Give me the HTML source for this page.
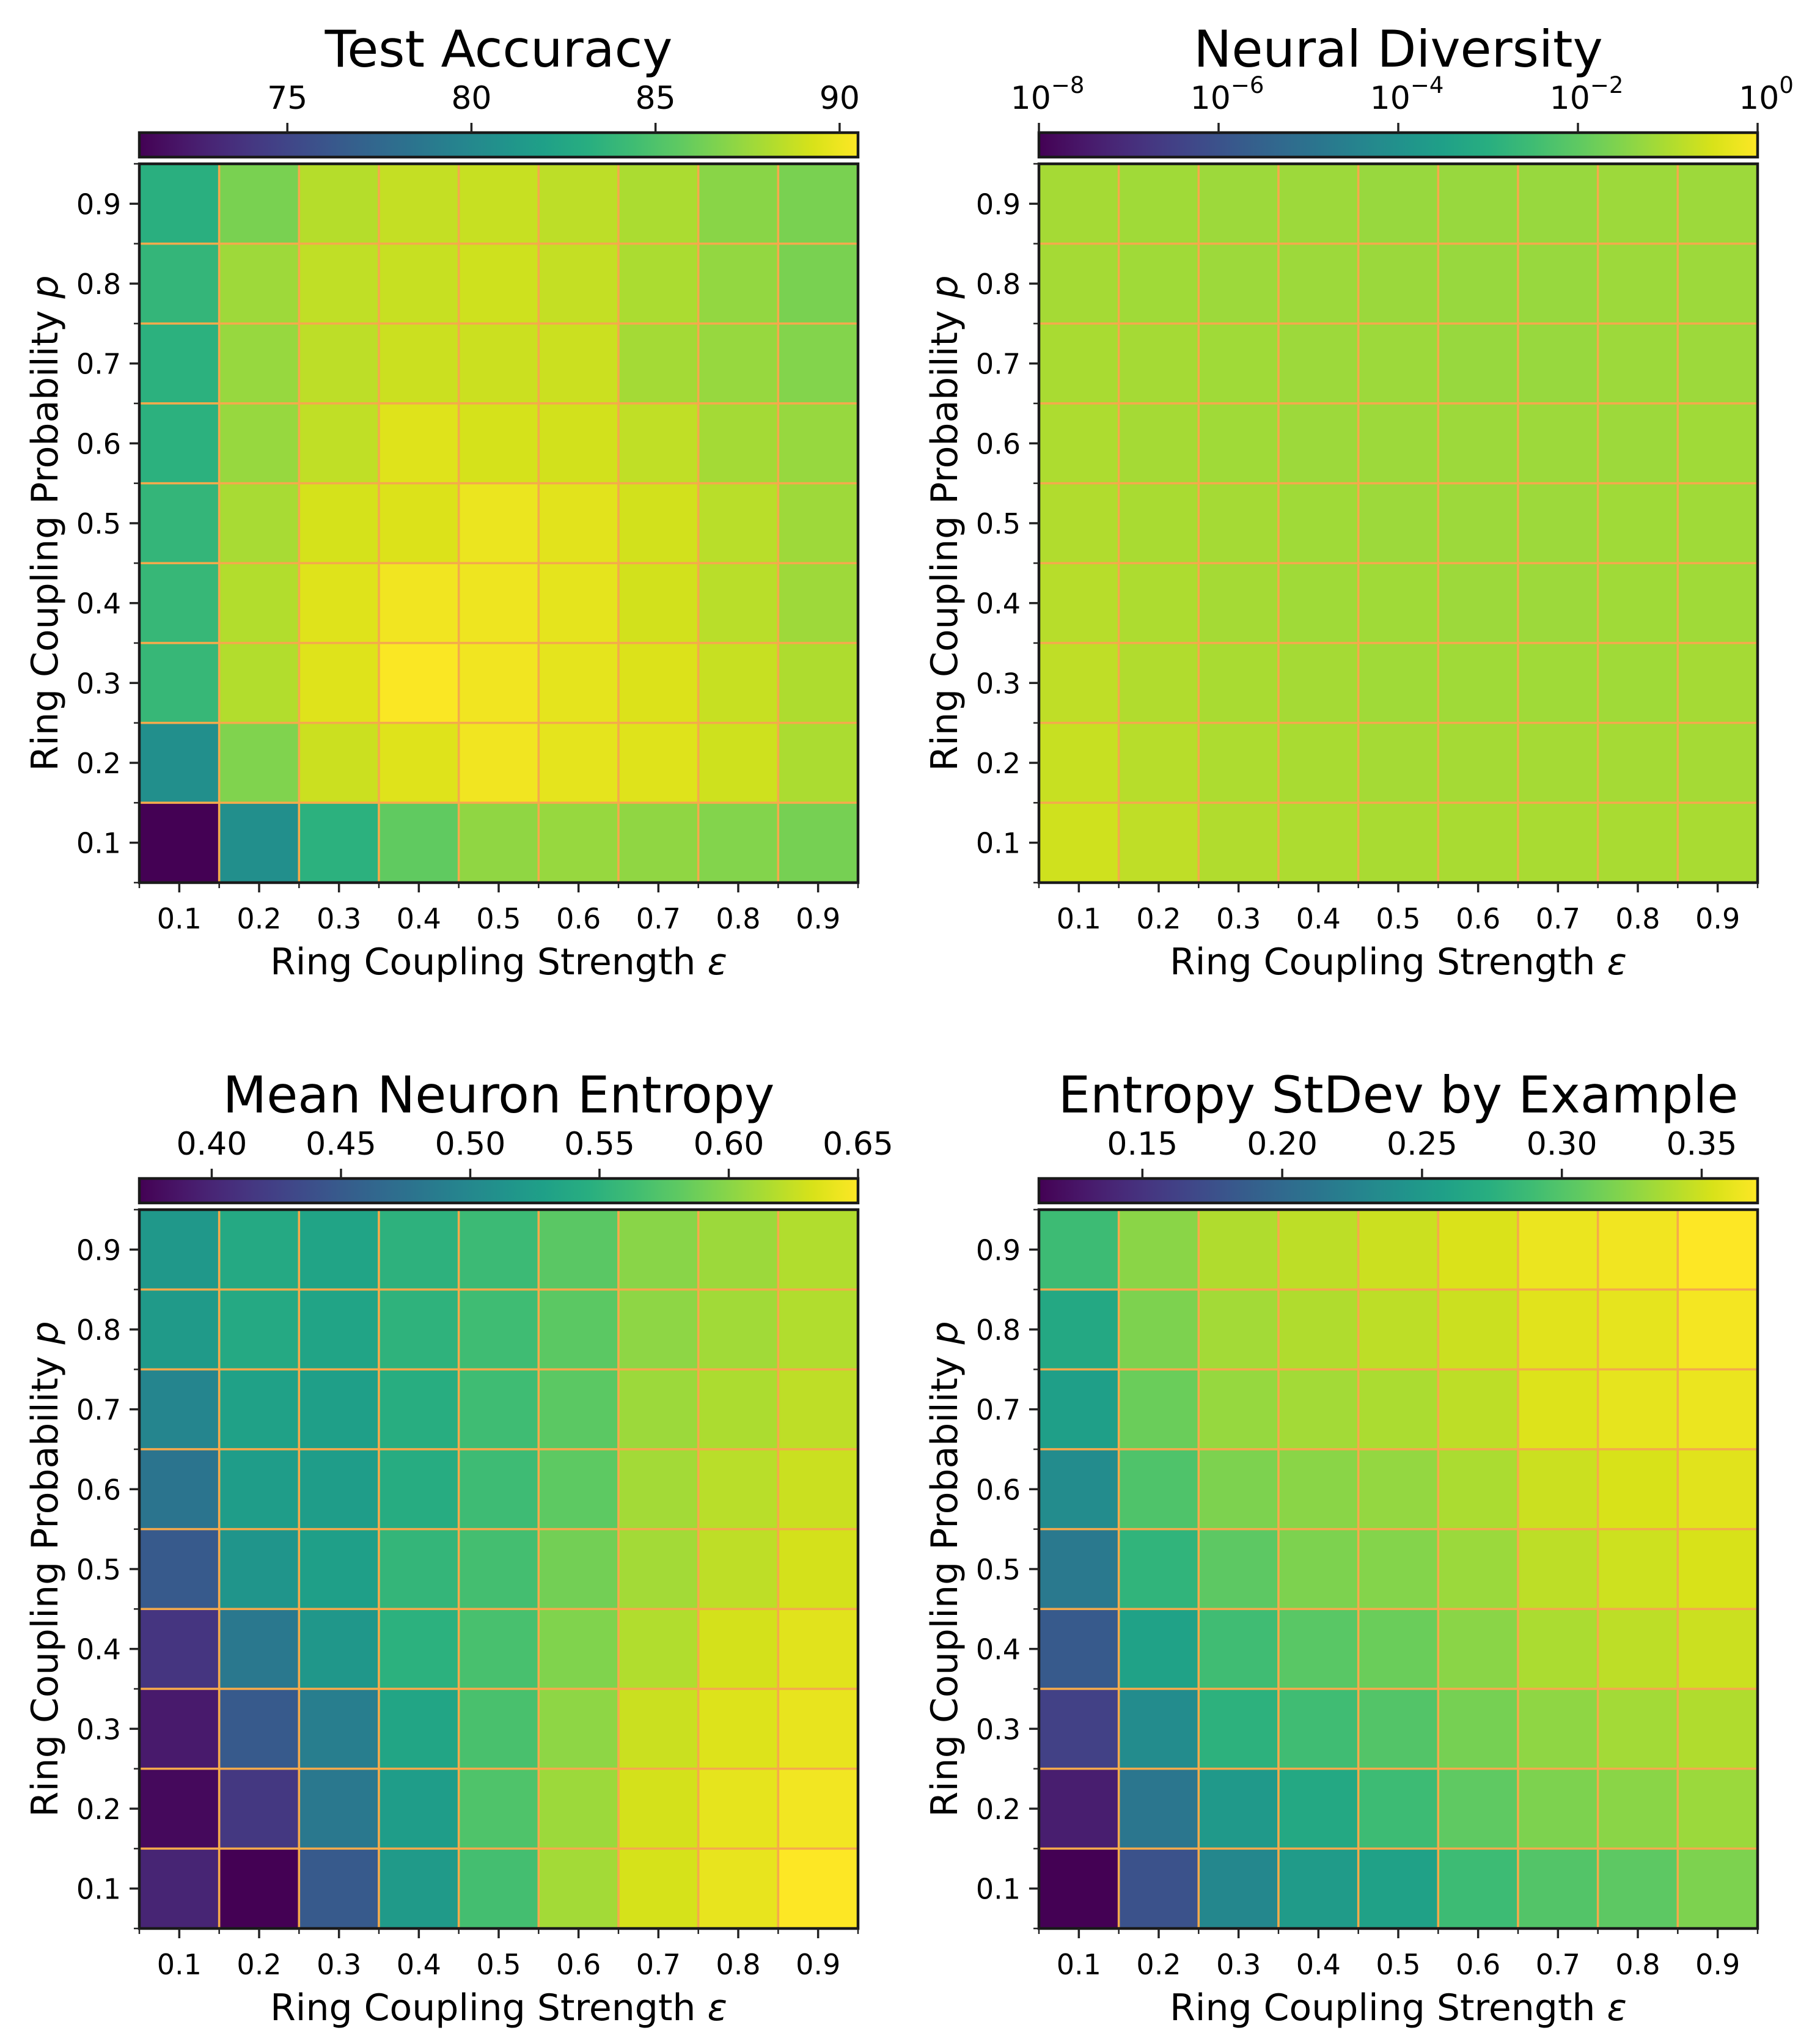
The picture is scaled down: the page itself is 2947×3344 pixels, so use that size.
<!DOCTYPE html>
<html><head><meta charset="utf-8"><style>
html,body{margin:0;padding:0;background:#fff;}
svg{display:block;font-family:"DejaVu Sans","Liberation Sans",sans-serif;}
</style></head><body>
<svg id="fig" width="2947" height="3344" viewBox="0 0 2947 3344" xmlns="http://www.w3.org/2000/svg">
<defs id="defs"></defs>
</svg>
<script>
const categories = [0.1,0.2,0.3,0.4,0.5,0.6,0.7,0.8,0.9];
const yCategories = [0.9,0.8,0.7,0.6,0.5,0.4,0.3,0.2,0.1];
// rows from p=0.9 (top) to p=0.1 (bottom), columns eps=0.1..0.9
const accuracyValues = [
[83.3,86.5,88.3,88.7,88.8,88.5,88.0,87.0,86.5],
[83.8,87.6,88.6,88.8,89.0,88.7,88.0,87.3,86.5],
[83.4,87.4,88.5,88.9,88.9,88.9,87.8,87.4,86.8],
[83.4,87.4,88.6,89.5,89.2,89.1,88.6,87.8,87.4],
[83.8,87.9,89.2,89.4,89.9,89.6,89.1,88.4,87.6],
[84.0,88.2,89.5,90.1,90.0,89.7,89.1,88.4,87.6],
[84.0,88.2,89.5,90.4,90.1,89.7,89.4,88.8,88.1],
[80.6,86.7,88.9,89.5,90.1,89.7,89.5,89.0,88.0],
[71.0,80.6,83.4,85.7,87.2,87.4,87.2,86.8,86.4]];
const diversityValues = [
[0.08,0.07,0.063,0.063,0.056,0.056,0.056,0.063,0.063],
[0.08,0.07,0.063,0.063,0.06,0.056,0.056,0.063,0.063],
[0.09,0.08,0.07,0.063,0.063,0.056,0.056,0.063,0.063],
[0.10,0.08,0.07,0.063,0.063,0.063,0.063,0.063,0.07],
[0.11,0.09,0.08,0.07,0.063,0.063,0.063,0.07,0.07],
[0.13,0.10,0.08,0.07,0.07,0.063,0.063,0.07,0.07],
[0.16,0.11,0.09,0.08,0.07,0.07,0.07,0.07,0.08],
[0.20,0.13,0.10,0.09,0.08,0.08,0.08,0.08,0.08],
[0.25,0.16,0.11,0.10,0.09,0.09,0.09,0.09,0.09]];
const entropyValues = [
[0.519,0.539,0.533,0.550,0.561,0.578,0.600,0.608,0.617],
[0.522,0.540,0.533,0.551,0.563,0.579,0.602,0.610,0.617],
[0.497,0.530,0.527,0.545,0.563,0.579,0.608,0.615,0.622],
[0.478,0.525,0.525,0.543,0.562,0.580,0.611,0.620,0.627],
[0.450,0.516,0.527,0.555,0.566,0.590,0.611,0.622,0.631],
[0.414,0.483,0.518,0.549,0.568,0.596,0.617,0.631,0.637],
[0.391,0.450,0.489,0.535,0.569,0.602,0.627,0.635,0.640],
[0.378,0.417,0.483,0.525,0.572,0.608,0.631,0.639,0.645],
[0.400,0.372,0.450,0.522,0.566,0.611,0.632,0.640,0.650]];
const stdevValues = [
[0.288,0.324,0.339,0.344,0.349,0.355,0.362,0.365,0.370],
[0.267,0.319,0.334,0.339,0.344,0.349,0.358,0.360,0.366],
[0.257,0.311,0.329,0.334,0.337,0.344,0.356,0.360,0.362],
[0.236,0.298,0.319,0.324,0.328,0.337,0.349,0.354,0.358],
[0.216,0.280,0.305,0.319,0.322,0.331,0.344,0.350,0.354],
[0.185,0.260,0.290,0.303,0.311,0.324,0.337,0.344,0.349],
[0.162,0.236,0.277,0.290,0.300,0.316,0.326,0.334,0.339],
[0.134,0.213,0.250,0.267,0.288,0.306,0.319,0.324,0.331],
[0.113,0.177,0.231,0.252,0.259,0.288,0.300,0.305,0.319]];
const accuracyTicks = [75,80,85,90];
const diversityTicks = [-8,-6,-4,-2,0];
const entropyTicks = [0.40,0.45,0.50,0.55,0.60,0.65];
const stdevTicks = [0.15,0.20,0.25,0.30,0.35];
const xTickLabels = ["0.1","0.2","0.3","0.4","0.5","0.6","0.7","0.8","0.9"];

const VIR = ["440154","48186a","472d7b","424086","3b528b","33638d","2c728e","26828e","21918c","1fa088","28ae80","3fbc73","5ec962","84d44b","addc30","d8e219","fde725"];
function viridis(t){
  t=Math.max(0,Math.min(1,t));
  const n=VIR.length-1, f=t*n, i=Math.min(n-1,Math.floor(f)), r=f-i;
  const a=VIR[i],b=VIR[i+1];
  const c=[0,2,4].map(k=>Math.round(parseInt(a.substr(k,2),16)*(1-r)+parseInt(b.substr(k,2),16)*r));
  return `rgb(${c[0]},${c[1]},${c[2]})`;
}
const NS="http://www.w3.org/2000/svg";
const svg=document.getElementById('fig');
function mk(tag,attrs,parent){const e=document.createElementNS(NS,tag);for(const k in attrs)e.setAttribute(k,attrs[k]);(parent||svg).appendChild(e);return e;}

const grad=mk('linearGradient',{id:'vir',x1:'0',x2:'1',y1:'0',y2:'0'},document.getElementById('defs'));
for(let i=0;i<=32;i++){mk('stop',{offset:(i/32),'stop-color':viridis(i/32)},grad);}

const S=1176;
const panels=[
 {name:'test-accuracy',title:'Test Accuracy',x:228,y:268,data:accuracyValues,vmin:70.98,vmax:90.5,log:false,ticks:accuracyTicks,fmt:v=>String(v)},
 {name:'neural-diversity',title:'Neural Diversity',x:1700,y:268,data:diversityValues,vmin:-8,vmax:0,log:true,ticks:diversityTicks,fmt:null},
 {name:'mean-neuron-entropy',title:'Mean Neuron Entropy',x:228,y:1979,data:entropyValues,vmin:0.372,vmax:0.65,log:false,ticks:entropyTicks,fmt:v=>v.toFixed(2)},
 {name:'entropy-stdev',title:'Entropy StDev by Example',x:1700,y:1979,data:stdevValues,vmin:0.113,vmax:0.370,log:false,ticks:stdevTicks,fmt:v=>v.toFixed(2)}
];
panels.forEach(P=>{
  const g=mk('g',{});
  
  
  const xScale=e=>P.x+(e-0.05)/0.9*S;
  const yScale=p=>P.y+S-(p-0.05)/0.9*S;
  const cScale=v=>P.x+(v-P.vmin)/(P.vmax-P.vmin)*S;
  P.data.forEach((row,ri)=>{
    row.forEach((v,ci)=>{
      const val=P.log?Math.log10(v):v;
      const x0=xScale(categories[ci]-0.05), y0=yScale(yCategories[ri]+0.05);
      const r=mk('rect',{x:x0,y:y0,width:xScale(categories[ci]+0.05)-x0,height:yScale(yCategories[ri]-0.05)-y0,fill:viridis((val-P.vmin)/(P.vmax-P.vmin)),stroke:'#f5aa4c','stroke-width':3.5},g);
      
      
    });
  });
  const fr=mk('rect',{x:P.x,y:P.y,width:S,height:S,fill:'none',stroke:'#1a1a1a','stroke-width':4.5},g);
  
  
  categories.forEach((c,i)=>{
    const x=xScale(c);
    mk('line',{x1:x,x2:x,y1:P.y+S,y2:P.y+S+16,stroke:'#222','stroke-width':3.5},g);
    const t=mk('text',{x:x,y:P.y+S+75,'font-size':46,'text-anchor':'middle',fill:'#000'},g);
    t.textContent=xTickLabels[i];
    
    
    const y=yScale(c);
    mk('line',{x1:P.x-16,x2:P.x,y1:y,y2:y,stroke:'#222','stroke-width':3.5},g);
    const ty=mk('text',{x:P.x-30,y:y+17,'font-size':46,'text-anchor':'end',fill:'#000'},g);
    ty.textContent=xTickLabels[i];
    
    
  });
  for(let k=0;k<=9;k++){
    const b=0.05+k*0.1;
    const x=xScale(b), y=yScale(b);
    mk('line',{x1:x,x2:x,y1:P.y+S,y2:P.y+S+9,stroke:'#222','stroke-width':2.5},g);
    mk('line',{x1:P.x-9,x2:P.x,y1:y,y2:y,stroke:'#222','stroke-width':2.5},g);
  }
  const xl=mk('text',{x:P.x+S/2,y:P.y+S+150,'font-size':60,'text-anchor':'middle',fill:'#000'},g);
  xl.innerHTML='Ring Coupling Strength <tspan font-style="italic">ε</tspan>';
  
  
  const yl=mk('text',{x:0,y:0,'font-size':60,'text-anchor':'middle',fill:'#000',transform:`translate(${P.x-134},${P.y+S/2}) rotate(-90)`},g);
  yl.innerHTML='Ring Coupling Probability <tspan font-style="italic">p</tspan>';
  
  
  const cb=mk('rect',{x:P.x,y:P.y-51,width:S,height:40,fill:'url(#vir)',stroke:'#1a1a1a','stroke-width':4.5},g);
  
  
  P.ticks.forEach(v=>{
    const x=cScale(v);
    mk('line',{x1:x,x2:x,y1:P.y-51,y2:P.y-67,stroke:'#222','stroke-width':3.5},g);
    const t=mk('text',{x:x,y:P.y-90,'font-size':52,'text-anchor':'middle',fill:'#000'},g);
    if(P.log){t.innerHTML=`10<tspan dy="-26" font-size="37">${v===0?'0':'−'+Math.abs(v)}</tspan>`;t.setAttribute('x',x+14);}
    else t.textContent=P.fmt(v);
    
    
  });
  const tt=mk('text',{x:P.x+S/2,y:P.y-159,'font-size':83,'text-anchor':'middle',fill:'#000'},g);
  tt.textContent=P.title;
  
  
});
</script>
</body></html>
